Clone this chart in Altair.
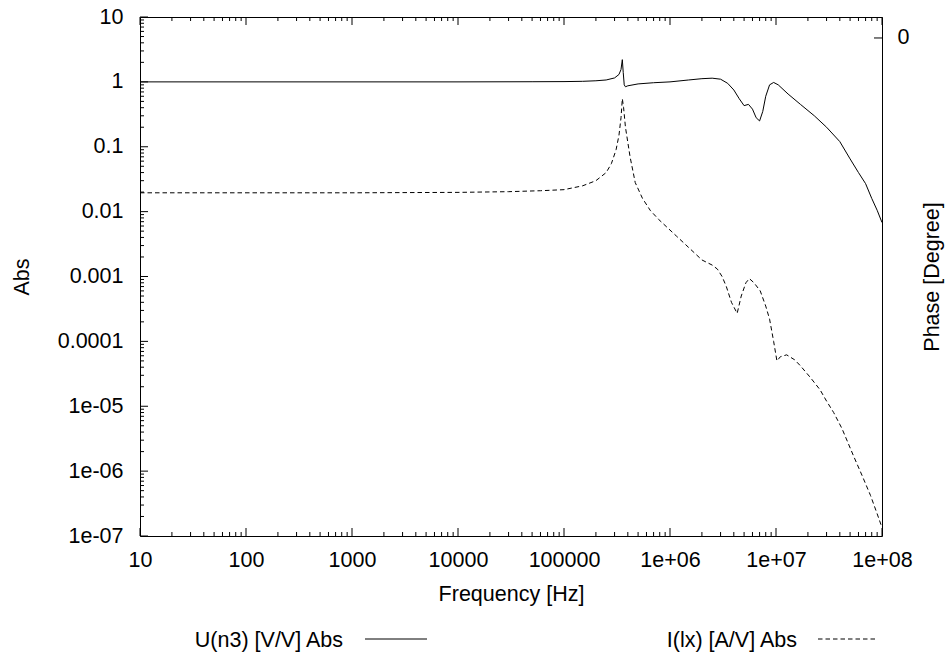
import altair as alt
import pandas as pd

# ---------------- data ----------------
u_freq = [10, 1e3, 1e4, 5e4, 1e5, 1.5e5, 2e5, 2.5e5, 3e5, 3.3e5, 3.45e5, 3.55e5,
          3.62e5, 3.7e5, 3.8e5, 4e5, 5e5, 7e5, 1e6, 1.5e6, 2e6, 2.5e6, 3e6, 3.5e6,
          4e6, 4.5e6, 5e6, 5.5e6, 6e6, 6.5e6, 7e6, 7.5e6, 8e6, 8.7e6, 9.5e6, 1.05e7,
          1.3e7, 1.7e7, 2.3e7, 3e7, 4e7, 5e7, 6e7, 7e7, 8e7, 9e7, 1e8]
u_abs = [1.0, 1.0, 1.0, 1.005, 1.01, 1.02, 1.04, 1.07, 1.15, 1.3, 1.55, 2.2,
         1.4, 0.9, 0.84, 0.87, 0.93, 0.97, 1.0, 1.07, 1.12, 1.14, 1.1, 0.95,
         0.75, 0.55, 0.43, 0.45, 0.38, 0.28, 0.25, 0.35, 0.6, 0.9, 0.98, 0.9,
         0.65, 0.45, 0.3, 0.2, 0.12, 0.065, 0.04, 0.027, 0.016, 0.0105, 0.0068]

i_freq = [10, 1e3, 1e4, 3e4, 6e4, 1e5, 1.5e5, 2e5, 2.5e5, 2.8e5, 3.1e5, 3.3e5,
          3.45e5, 3.55e5, 3.65e5, 3.8e5, 4.2e5, 4.7e5, 5.5e5, 6.5e5, 7.8e5, 1e6,
          1.15e6, 1.5e6, 2e6, 2.5e6, 2.8e6, 3.1e6, 3.4e6, 3.8e6, 4.3e6, 4.7e6,
          5.2e6, 5.6e6, 6.2e6, 7.1e6, 8e6, 8.7e6, 9.5e6, 1.02e7, 1.1e7, 1.26e7,
          1.5e7, 1.7e7, 2.1e7, 2.6e7, 3e7, 3.5e7, 4.2e7, 5.4e7, 6.5e7, 7.8e7, 9e7, 1e8]
i_abs = [0.0195, 0.0195, 0.0198, 0.0203, 0.021, 0.0218, 0.025, 0.03, 0.04, 0.055,
         0.09, 0.15, 0.28, 0.55, 0.4, 0.2, 0.07, 0.028, 0.016, 0.0105, 0.0076,
         0.0052, 0.0042, 0.0028, 0.0018, 0.0015, 0.0013, 0.001, 0.0007, 0.0004,
         0.00027, 0.0005, 0.0008, 0.00093, 0.0008, 0.0006, 0.00035, 0.00022,
         0.0001, 5.0e-5, 5.8e-5, 6.2e-5, 5.2e-5, 4.2e-5, 2.8e-5, 1.8e-5, 1.2e-5,
         8e-6, 4.5e-6, 1.7e-6, 8.5e-7, 4.2e-7, 2.2e-7, 1.35e-7]

x_major = [10, 100, 1000, 10000, 100000, 1e6, 1e7, 1e8]
x_labels = ["10", "100", "1000", "10000", "100000", "1e+06", "1e+07", "1e+08"]
y_major = [10, 1, 0.1, 0.01, 0.001, 0.0001, 1e-05, 1e-06, 1e-07]
y_labels = ["10", "1", "0.1", "0.01", "0.001", "0.0001", "1e-05", "1e-06", "1e-07"]
x_minor = [m * 10 ** k for k in range(1, 8) for m in range(2, 10)]
y_minor = [m * 10.0 ** k for k in range(-7, 1) for m in range(2, 10)]
phase_ticks = [0]
phase_labels = ["0"]
legend_labels = ["U(n3) [V/V] Abs", "I(lx) [A/V] Abs"]

# ---------------- layout ----------------
W, H = 742, 519
FONT = "Liberation Sans"
FS = 21.5
MAJ, MIN = 8, 4
X_DOM = [10, 1e8]
Y_DOM = [1e-7, 10]
PX_PER_DEC_X = W / 7.0
PX_PER_DEC_Y = H / 8.0


def label_expr(values, labels):
    expr = "''"
    for v, l in reversed(list(zip(values, labels))):
        expr = f"datum.value == {v!r} ? '{l}' : ({expr})"
    return expr


xscale = alt.Scale(type="log", domain=X_DOM, nice=False)
yscale = alt.Scale(type="log", domain=Y_DOM, nice=False)

u_df = pd.DataFrame({"f": u_freq, "a": u_abs})
i_df = pd.DataFrame({"f": i_freq, "a": i_abs})

# tick segments (inward, gnuplot style), expressed through the log scales
rows = []
tid = 0
for vals, length in ((x_major, MAJ), (x_minor, MIN)):
    fy = 10 ** (length / PX_PER_DEC_Y)
    for v in vals:
        for a0, a1 in ((Y_DOM[0], Y_DOM[0] * fy), (Y_DOM[1], Y_DOM[1] / fy)):
            rows += [{"id": tid, "f": v, "a": a0, "k": 0}, {"id": tid, "f": v, "a": a1, "k": 1}]
            tid += 1
for vals, length in ((y_major, MAJ), (y_minor, MIN)):
    fx = 10 ** (length / PX_PER_DEC_X)
    for v in vals:
        rows += [{"id": tid, "f": X_DOM[0], "a": v, "k": 0},
                 {"id": tid, "f": X_DOM[0] * fx, "a": v, "k": 1}]
        tid += 1
tick_df = pd.DataFrame(rows)

x_axis = alt.Axis(values=x_major, labelExpr=label_expr(x_major, x_labels),
                  ticks=False, domain=False, grid=False, labelFont=FONT,
                  labelFontSize=FS, labelColor="black", labelBaseline="alphabetic",
                  labelPadding=30.5, labelFlush=False, labelOverlap=False,
                  title="Frequency [Hz]", titleFont=FONT, titleFontSize=FS,
                  titleFontWeight="normal", titleColor="black",
                  titleBaseline="alphabetic", titleX=W / 2, titleY=64.5,
                  titleAlign="center")
y_axis = alt.Axis(orient="left", values=y_major, labelExpr=label_expr(y_major, y_labels),
                  ticks=False, domain=False, grid=False, labelFont=FONT,
                  labelFontSize=FS, labelColor="black", labelPadding=17,
                  labelFlush=False, labelOverlap=False,
                  title="Abs", titleFont=FONT, titleFontSize=FS,
                  titleFontWeight="normal", titleColor="black", titleAngle=270,
                  titleBaseline="alphabetic", titleX=-112, titleY=H / 2,
                  titleAlign="center")

u_line = alt.Chart(u_df).mark_line(color="black", strokeWidth=1, clip=True).encode(
    x=alt.X("f:Q", scale=xscale, axis=x_axis),
    y=alt.Y("a:Q", scale=yscale, axis=y_axis),
)
i_line = alt.Chart(i_df).mark_line(color="black", strokeWidth=1, strokeDash=[4.5, 3],
                                   clip=True).encode(
    x=alt.X("f:Q", scale=xscale, axis=x_axis),
    y=alt.Y("a:Q", scale=yscale, axis=y_axis),
)
tick_lines = alt.Chart(tick_df).mark_line(color="black", strokeWidth=1).encode(
    x=alt.X("f:Q", scale=xscale, axis=x_axis),
    y=alt.Y("a:Q", scale=yscale, axis=y_axis),
    detail="id:N",
    order="k:Q",
)

legend_u_text = alt.Chart(pd.DataFrame({"t": [legend_labels[0]]})).mark_text(
    align="right", baseline="alphabetic", font=FONT, fontSize=FS, color="black"
).encode(x=alt.value(203), y=alt.value(630), text="t:N")
legend_i_text = alt.Chart(pd.DataFrame({"t": [legend_labels[1]]})).mark_text(
    align="right", baseline="alphabetic", font=FONT, fontSize=FS, color="black"
).encode(x=alt.value(657), y=alt.value(630), text="t:N")
legend_u_line = alt.Chart(pd.DataFrame({"t": [legend_labels[0]]})).mark_rule(
    color="black", strokeWidth=1).encode(x=alt.value(225), x2=alt.value(287), y=alt.value(622))
legend_i_line = alt.Chart(pd.DataFrame({"t": [legend_labels[1]]})).mark_rule(
    color="black", strokeWidth=1, strokeDash=[4.5, 3]).encode(
    x=alt.value(678), x2=alt.value(738), y=alt.value(622))

main = alt.layer(
    u_line, i_line, tick_lines,
    legend_u_text, legend_i_text, legend_u_line, legend_i_line,
)

phase = alt.Chart(pd.DataFrame({"p": phase_ticks})).mark_rule(
    color="black", strokeWidth=1).encode(
    y=alt.Y("p:Q", scale=alt.Scale(domain=[-237.5, 10], nice=False, zero=False),
            axis=alt.Axis(orient="right", values=phase_ticks,
                          labelExpr=label_expr(phase_ticks, phase_labels),
                          ticks=False, domain=False, grid=False, labelFont=FONT,
                          labelFontSize=FS, labelColor="black", labelPadding=15,
                          labelFlush=False, title="Phase [Degree]", titleFont=FONT,
                          titleFontSize=FS, titleFontWeight="normal",
                          titleColor="black", titleAngle=270,
                          titleBaseline="alphabetic", titleX=56, titleY=H / 2,
                          titleAlign="center")),
    x=alt.value(W - MAJ), x2=alt.value(W),
)

chart = alt.layer(main, phase).resolve_scale(y="independent").properties(
    width=W, height=H,
    autosize=alt.AutoSizeParams(type="none"),
    padding={"left": 140, "top": 17, "right": 67, "bottom": 121},
    background="white",
).configure_view(stroke="black", strokeWidth=1)

chart.save("out.html", embed_options={"renderer": "svg", "actions": False})
